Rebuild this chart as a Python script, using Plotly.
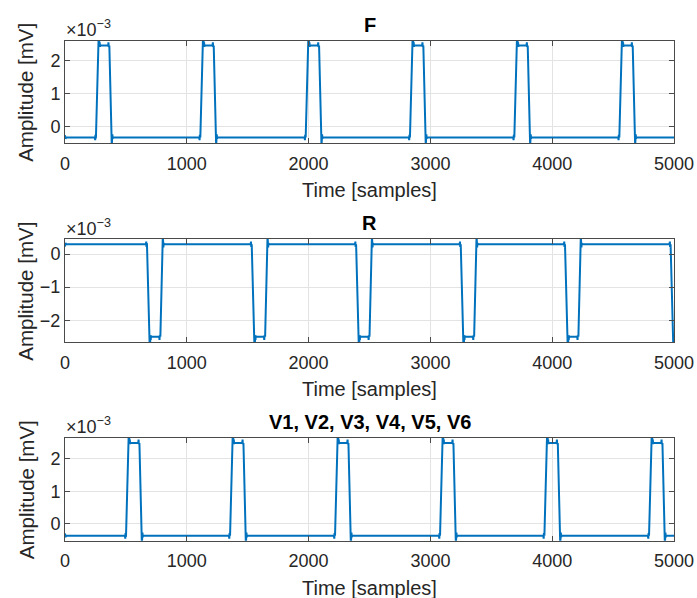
import plotly.graph_objects as go

# ---------------- data ----------------
X_RANGE = [0, 5000]
X_TICKS = [0, 1000, 2000, 3000, 4000, 5000]
X_TICK_LABELS = ["0", "1000", "2000", "3000", "4000", "5000"]

TITLES = ["F", "R", "V1, V2, V3, V4, V5, V6"]

# pulse onsets (samples) for each lead
F_ONSETS = [254, 1111, 1976, 2832, 3689, 4551]
R_ONSETS = [673, 1533, 2390, 3249, 4105, 4972]
V_ONSETS = [501, 1355, 2217, 3079, 3936, 4795]

# baseline and plateau levels (mV)
F_LEVELS = [-0.34e-3, 2.47e-3]
R_LEVELS = [0.30e-3, -2.50e-3]
V_LEVELS = [-0.37e-3, 2.49e-3]

# pulse outline: offset from onset (samples) and
# fraction of the step between baseline (0) and plateau (1)
PULSE_OFFSETS = [-9, -6, -4, -2, 0, 22, 26, 29, 31, 33, 36, 100, 103, 105, 108, 110, 130, 133, 135, 137, 140]
PULSE_FRACTIONS = [0.0, -0.03, 0.03, -0.01, 0.0, 1.09, 1.07, 0.985, 1.035, 0.99, 1.0, 1.0, 1.035, 0.985, 1.01, 1.0, -0.09, -0.03, 0.035, -0.015, 0.0]

# y axis ranges, ticks
F_YRANGE = [-0.51e-3, 2.62e-3]
R_YRANGE = [-2.67e-3, 0.46e-3]
V_YRANGE = [-0.52e-3, 2.65e-3]
F_YTICKS = [0, 1e-3, 2e-3]
R_YTICKS = [-2e-3, -1e-3, 0]
V_YTICKS = [0, 1e-3, 2e-3]
F_YLABELS = ["0", "1", "2"]
R_YLABELS = ["\u22122", "\u22121", "0"]
V_YLABELS = ["0", "1", "2"]


def build_series(onsets, levels):
    base, plat = levels
    xs = [0, 4, 8]
    ys = [base + 0.025 * (plat - base), base - 0.015 * (plat - base), base]
    for t0 in onsets:
        for off, fr in zip(PULSE_OFFSETS, PULSE_FRACTIONS):
            xs.append(t0 + off)
            ys.append(base + fr * (plat - base))
    xs.append(5200)
    ys.append(base)
    return xs, ys


# ---------------- figure ----------------
W, H = 697, 598
LINE_COLOR = "#0072BD"
TEXT_COLOR = "#262626"
FONT = "Liberation Sans, Arial, Helvetica, sans-serif"

x_dom = [65 / W, 674 / W]
panels_px = [(40.7, 143.0), (239.0, 342.3), (437.7, 540.7)]  # top, bottom in px

leads = [
    (F_ONSETS, F_LEVELS, F_YRANGE, F_YTICKS, F_YLABELS),
    (R_ONSETS, R_LEVELS, R_YRANGE, R_YTICKS, R_YLABELS),
    (V_ONSETS, V_LEVELS, V_YRANGE, V_YTICKS, V_YLABELS),
]

fig = go.Figure()
annotations = []
layout_axes = {}

for i, (onsets, levels, yr, yt, yl) in enumerate(leads):
    n = "" if i == 0 else str(i + 1)
    xs, ys = build_series(onsets, levels)
    fig.add_trace(go.Scatter(
        x=xs, y=ys, mode="lines",
        line=dict(color=LINE_COLOR, width=2),
        xaxis="x" + n, yaxis="y" + n, showlegend=False,
        hoverinfo="skip",
    ))
    top, bot = panels_px[i]
    y_dom = [1 - bot / H, 1 - top / H]
    common = dict(
        showgrid=True, gridcolor="#e3e3e3", gridwidth=1,
        zeroline=False, showline=True, linecolor="#4a4a4a", linewidth=1,
        mirror="ticks", ticks="inside", ticklen=5, tickcolor="#4a4a4a",
        tickfont=dict(family=FONT, size=18, color=TEXT_COLOR),
        automargin=False,
    )
    layout_axes["xaxis" + n] = dict(
        domain=x_dom, range=X_RANGE, tickvals=X_TICKS, ticktext=X_TICK_LABELS,
        anchor="y" + n, ticklabelstandoff=4, **common,
    )
    layout_axes["yaxis" + n] = dict(
        domain=y_dom, range=yr, tickvals=yt, ticktext=yl,
        anchor="x" + n, **common,
    )
    cx = (x_dom[0] + x_dom[1]) / 2
    # title
    annotations.append(dict(
        text="<b>%s</b>" % TITLES[i], xref="paper", yref="paper",
        x=cx, y=1 - (top - 15.5) / H, xanchor="center", yanchor="middle",
        showarrow=False, font=dict(family=FONT, size=20, color="#000000"),
    ))
    # x label
    annotations.append(dict(
        text="Time [samples]", xref="paper", yref="paper",
        x=cx, y=1 - (bot + 47) / H, xanchor="center", yanchor="middle",
        showarrow=False, font=dict(family=FONT, size=20, color=TEXT_COLOR),
    ))
    # y label
    annotations.append(dict(
        text="Amplitude [mV]", xref="paper", yref="paper", textangle=-90,
        x=26 / W, y=1 - ((top + bot) / 2 + 1) / H, xanchor="center", yanchor="middle",
        showarrow=False, font=dict(family=FONT, size=20.5, color=TEXT_COLOR),
    ))
    # exponent label
    annotations.append(dict(
        text="\u00d710<sup>\u22123</sup>", xref="paper", yref="paper",
        x=64 / W, y=1 - (top - 12) / H, xanchor="left", yanchor="middle",
        showarrow=False, font=dict(family=FONT, size=18, color=TEXT_COLOR),
    ))

fig.update_layout(
    width=W, height=H, autosize=False,
    margin=dict(l=0, r=0, t=0, b=0, pad=0, autoexpand=False),
    paper_bgcolor="white", plot_bgcolor="white",
    annotations=annotations,
    **layout_axes,
)

fig.write_html(
    "out.html",
    config={"displayModeBar": False, "responsive": False},
    post_script=(
        "document.body.style.margin='0';"
        "document.body.style.overflow='hidden';"
        "Plotly.relayout(document.getElementById('{plot_id}'), {width: 697, height: 598});"
    ),
)
